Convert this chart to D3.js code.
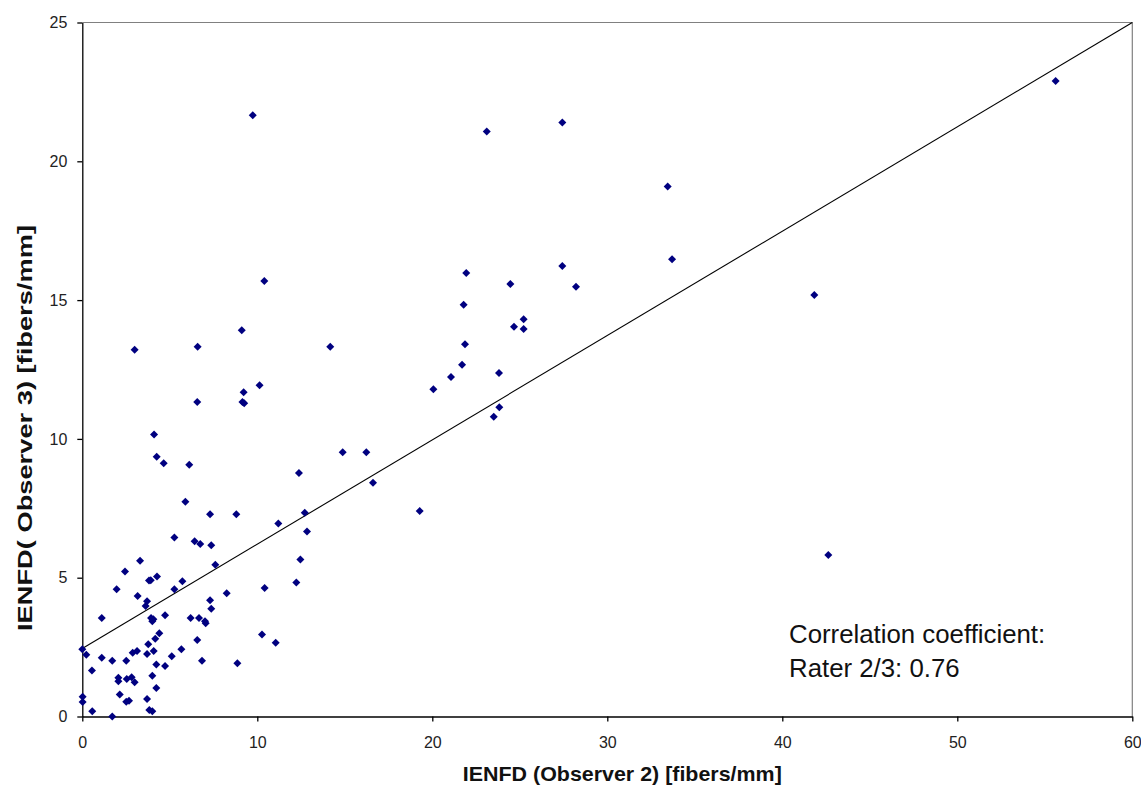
<!DOCTYPE html>
<html lang="en">
	<head>
		<meta charset="utf-8">
		<title>IENFD Observer 2 vs Observer 3</title>
		<script type="text/javascript" src="https://cdn.jsdelivr.net/npm/d3@7"></script>
		<style>
			body { margin: 0; background: #ffffff; }
			svg { display: block; font-family: "Liberation Sans", Arial, sans-serif; }
		</style>
	</head>
	<body>
		<script type="text/javascript">
			// IENFD values (fibers/mm)
			var observer2 = [
				10.13, 9.22, 9.15, 9.25, 6.57, 4.10, 4.25, 4.65, 6.11, 12.38,
				5.89, 7.30, 8.80, 12.71, 11.20, 12.84, 5.26, 6.42, 6.74, 7.37,
				7.60, 3.30, 12.46, 2.44, 4.27, 3.81, 3.91, 5.72, 12.23, 1.96,
				5.26, 10.42, 8.25, 3.16, 3.70, 3.62, 7.30, 7.37, 1.11, 3.93,
				4.06, 4.00, 4.73, 6.19, 6.67, 7.01, 7.05, 10.27, 11.05, 6.57,
				4.40, 4.17, 3.77, 0.00, 0.23, 3.13, 2.88, 4.08, 3.70, 1.11,
				1.71, 2.51, 5.11, 5.66, 6.84, 8.86, 4.23, 4.73, 0.55, 2.06,
				2.06, 2.54, 2.82, 2.99, 4.00, 2.14, 4.23, 2.51, 2.67, 3.70,
				0.02, 0.02, 0.57, 1.71, 3.83, 4.00,
				20.06, 23.83, 23.51, 14.88, 16.23, 16.61, 19.28,
				23.11, 27.43, 33.45, 21.94, 24.46, 27.43, 28.21, 33.70, 21.79,
				25.22, 24.67, 25.22, 21.87, 21.70, 21.07, 23.81,
				9.74, 10.40, 9.11, 2.99, 6.59, 14.17,
				55.62, 41.83, 42.63
			];
			var observer3 = [
				11.93, 11.68, 11.33, 11.28, 11.33, 10.16, 9.36, 9.12, 9.07, 8.77,
				7.74, 7.29, 7.29, 7.34, 6.95, 6.66, 6.45, 6.31, 6.21, 6.17,
				5.47, 5.61, 5.66, 5.22, 5.04, 4.90, 4.91, 4.87, 4.83, 4.58,
				4.58, 4.63, 4.44, 4.34, 4.15, 3.98, 4.19, 3.88, 3.55, 3.55,
				3.50, 3.43, 3.65, 3.55, 3.55, 3.43, 3.36, 2.95, 2.66, 2.76,
				3.00, 2.80, 2.60, 2.42, 2.22, 2.36, 2.30, 2.36, 2.25, 2.12,
				2.01, 2.01, 2.17, 2.42, 2.01, 1.92, 1.87, 1.82, 1.66, 1.40,
				1.27, 1.35, 1.41, 1.23, 1.47, 0.79, 1.03, 0.53, 0.57, 0.63,
				0.71, 0.52, 0.19, 0.00, 0.23, 0.19,
				11.79, 11.14, 10.80, 9.52, 9.52, 8.42, 7.40,
				21.07, 21.40, 19.09, 15.98, 15.58, 16.23, 15.48, 16.47, 14.83,
				14.31, 14.04, 13.96, 13.41, 12.67, 12.23, 12.37,
				21.66, 15.69, 13.91, 13.21, 13.32, 13.32,
				22.89, 15.18, 5.82
			];

			var xTicks = [0, 10, 20, 30, 40, 50, 60];
			var yTicks = [0, 5, 10, 15, 20, 25];

			// linear trendline
			var trendIntercept = 2.45;
			var trendSlope = 0.3758;
			var trendX = [0, 60];

			var noteLines = ["Correlation coefficient:", "Rater 2/3: 0.76"];

			//Width and height of svg
			var w = 1141;
			var h = 786;
			// plot box edges (not named top/left: those clash with window globals)
			var plotL = 82.3, plotR = 1132.3, plotT = 22.5, plotB = 716.5;

			var dataset = observer2.map(function(d, i) {
				return { x: d, y: observer3[i] };
			});

			//Create scale functions
			var xScale = d3.scaleLinear()
						.domain([0, 60])
						.range([plotL, plotR]);

			var yScale = d3.scaleLinear()
						.domain([0, 25])
						.range([plotB, plotT]);

			//Create SVG element
			var svg = d3.select("body")
						.append("svg")
						.attr("width", w)
						.attr("height", h);

			// top and right frame
			svg.append("path")
				.attr("d", "M" + plotL + "," + plotT + "H" + plotR + "V" + plotB)
				.attr("fill", "none")
				.attr("stroke", "#808080")
				.attr("stroke-width", 1.2);

			//Define and create X axis
			var xAxis = d3.axisBottom(xScale)
						.tickValues(xTicks)
						.tickSize(5)
						.tickSizeOuter(0)
						.tickPadding(15);

			var gx = svg.append("g")
				.attr("transform", "translate(0," + plotB + ")")
				.call(xAxis);

			//Define and create Y axis
			var yAxis = d3.axisLeft(yScale)
						.tickValues(yTicks)
						.tickSize(5)
						.tickSizeOuter(0)
						.tickPadding(10);

			var gy = svg.append("g")
				.attr("transform", "translate(" + plotL + ",0)")
				.call(yAxis);

			[gx, gy].forEach(function(g) {
				g.selectAll("path, line").attr("stroke", "#000").attr("stroke-width", 1.3);
				g.selectAll("text")
					.attr("font-size", "16px")
					.attr("font-family", "'Liberation Sans', Arial, sans-serif")
					.attr("fill", "#222");
			});

			// trendline
			var line = d3.line()
						.x(function(d) { return xScale(d); })
						.y(function(d) { return yScale(trendIntercept + trendSlope * d); });

			svg.append("path")
				.datum(trendX)
				.attr("d", line)
				.attr("fill", "none")
				.attr("stroke", "#000")
				.attr("stroke-width", 1.1);

			// Generate diamonds
			var r = 4;
			svg.selectAll("path.pt")
				.data(dataset)
				.enter()
				.append("path")
				.attr("class", "pt")
				.attr("d", function(d) {
					var cx = xScale(d.x), cy = yScale(d.y);
					return "M" + cx + "," + (cy - r) + "L" + (cx + r) + "," + cy +
						"L" + cx + "," + (cy + r) + "L" + (cx - r) + "," + cy + "Z";
				})
				.attr("fill", "#000080");

			// correlation note
			svg.selectAll("text.note")
				.data(noteLines)
				.enter()
				.append("text")
				.attr("class", "note")
				.attr("x", 789)
				.attr("y", function(d, i) { return 643 + i * 34; })
				.attr("font-size", "25.8px")
				.attr("fill", "#111")
				.text(function(d) { return d; });

			// axis titles
			svg.append("text")
				.attr("x", (plotL + plotR) / 2 + 15)
				.attr("y", 781)
				.attr("text-anchor", "middle")
				.attr("font-size", "21px")
				.attr("font-weight", "bold")
				.attr("fill", "#111")
				.attr("textLength", 319)
				.attr("lengthAdjust", "spacingAndGlyphs")
				.text("IENFD (Observer 2) [fibers/mm]");

			svg.append("text")
				.attr("transform", "translate(32," + 428 + ") rotate(-90)")
				.attr("text-anchor", "middle")
				.attr("font-size", "21px")
				.attr("font-weight", "bold")
				.attr("fill", "#111")
				.attr("textLength", 406)
				.attr("lengthAdjust", "spacingAndGlyphs")
				.text("IENFD( Observer  3) [fibers/mm]");
		</script>
	</body>
</html>
